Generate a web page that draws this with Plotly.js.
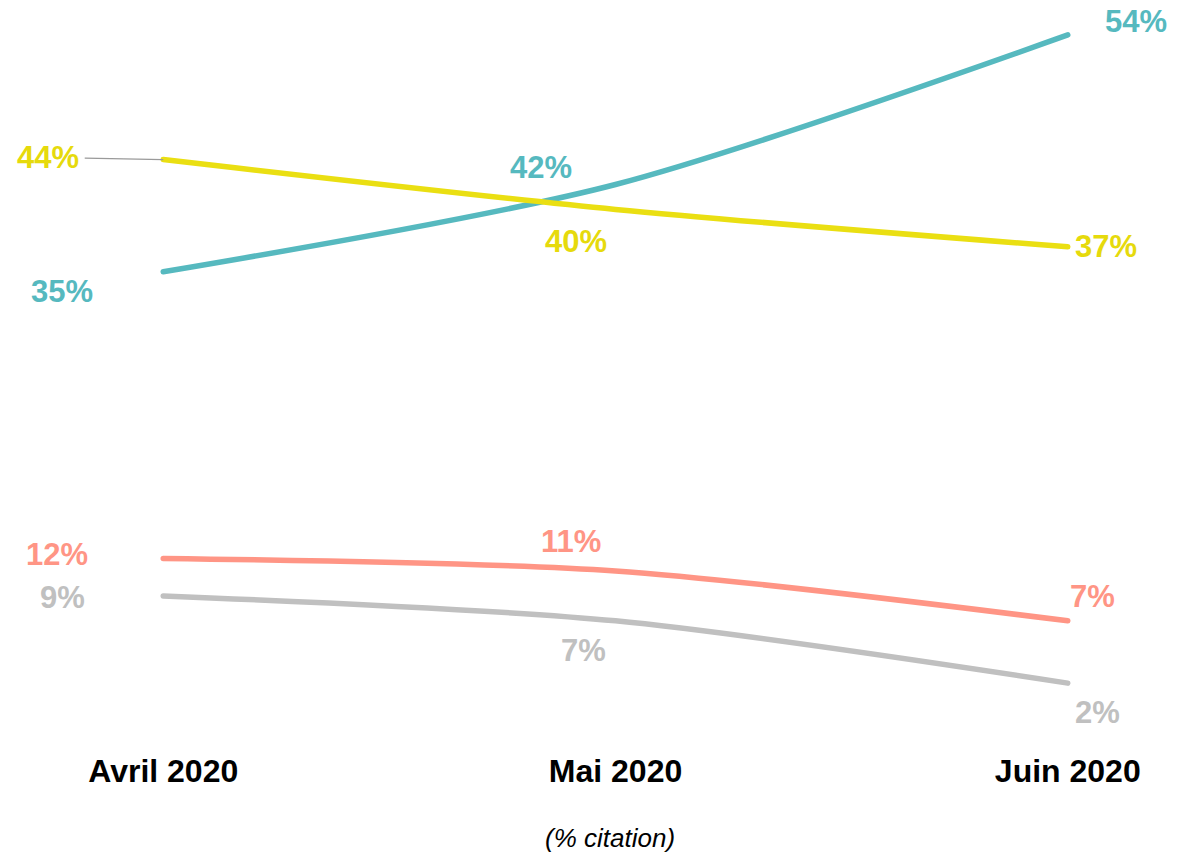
<!DOCTYPE html>
<html>
<head>
<meta charset="utf-8">
<script src="https://cdn.plot.ly/plotly-3.0.1.min.js"></script>
<style>
  html, body { margin: 0; padding: 0; background: #fff; }
  #chart { width: 1177px; height: 853px; }
  #chart .scatterlayer path.js-line { stroke-linecap: round; }
</style>
</head>
<body>
<div id="chart"></div>
<script>
// data
const months = ['Avril 2020', 'Mai 2020', 'Juin 2020']
const tealValues = [35, 42, 54]
const yellowValues = [44, 40, 37]
const salmonValues = [12, 11, 7]
const greyValues = [9, 7, 2]

const series = [
  { values: tealValues, color: '#56B9BF', textColor: '#56B9BF' },
  { values: yellowValues, color: '#EADF12', textColor: '#E6DA0C' },
  { values: salmonValues, color: '#FF9585', textColor: '#FF9585' },
  { values: greyValues, color: '#C0C0C0', textColor: '#C0C0C0' }
]

// label offsets in px from the point (dx, dy with dy up)
const labelOffsets = [
  [[-101, -20], [-75, 17], [68, 13]],
  [[-115, 2], [-40, -32], [38, 0]],
  [[-106, 4], [-45, 29], [25, 24]],
  [[-101, -2], [-32, -30], [30, -29]]
]

const labelFont = 'Liberation Sans, Arial, sans-serif'

const traces = series.map(s => ({
  x: months,
  y: s.values,
  type: 'scatter',
  mode: 'lines',
  line: { color: s.color, width: 5.5, shape: 'spline', smoothing: 0.8 },
  hoverinfo: 'skip'
}))

const annotations = []
series.forEach((s, si) => {
  s.values.forEach((v, i) => {
    const [dx, dy] = labelOffsets[si][i]
    const a = {
      x: months[i],
      y: v,
      xref: 'x',
      yref: 'y',
      text: v + '%',
      font: { family: labelFont, size: 31, color: s.textColor, weight: 'bold' },
      showarrow: false,
      xanchor: 'center',
      yanchor: 'middle'
    }
    // yellow 44% has a thin leader line to its point
    if (si === 1 && i === 0) {
      a.showarrow = true
      a.ax = dx
      a.ay = -dy
      a.arrowhead = 0
      a.arrowwidth = 1.2
      a.arrowcolor = '#9a9a9a'
      a.standoff = 0
      a.borderpad = 5
    } else {
      a.xshift = dx
      a.yshift = dy
    }
    annotations.push(a)
  })
})

annotations.push({
  xref: 'paper',
  yref: 'paper',
  x: 0.494,
  y: -0.145,
  text: '<i>(% citation)</i>',
  showarrow: false,
  font: { family: labelFont, size: 26, color: '#000' },
  xanchor: 'center',
  yanchor: 'middle'
})

const layout = {
  width: 1177,
  height: 853,
  margin: { l: 118, r: 64, t: 10, b: 120 },
  paper_bgcolor: '#fff',
  plot_bgcolor: '#fff',
  showlegend: false,
  xaxis: {
    type: 'category',
    range: [-0.1, 2.1],
    showgrid: false,
    zeroline: false,
    showline: false,
    ticks: 'outside',
    ticklen: 10,
    tickcolor: 'rgba(0,0,0,0)',
    tickfont: { family: labelFont, size: 32, color: '#000', weight: 'bold' }
  },
  yaxis: {
    range: [-2, 56],
    showgrid: false,
    zeroline: false,
    showline: false,
    showticklabels: false
  },
  annotations: annotations
}

Plotly.newPlot('chart', traces, layout, { displayModeBar: false, staticPlot: true })
</script>
</body>
</html>
